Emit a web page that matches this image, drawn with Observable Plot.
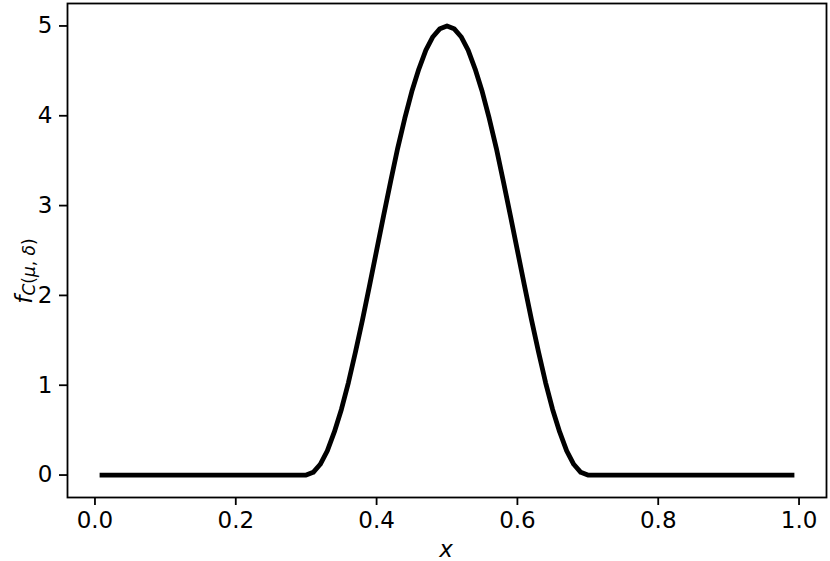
<!DOCTYPE html>
<html>
<head>
<meta charset="utf-8">
<script src="https://cdn.jsdelivr.net/npm/d3@7"></script>
<script src="https://cdn.jsdelivr.net/npm/@observablehq/plot@0.6"></script>
<style>
  html, body { margin: 0; padding: 0; background: #fff; }
  #chart { width: 830px; height: 561px; }
</style>
</head>
<body>
<div id="chart"></div>
<script>
// x positions
const xs = [0.01, 0.10, 0.20, 0.30, 0.31, 0.32, 0.33, 0.34, 0.35, 0.36, 0.37, 0.38, 0.39,
            0.40, 0.41, 0.42, 0.43, 0.44, 0.45, 0.46, 0.47, 0.48, 0.49, 0.50,
            0.51, 0.52, 0.53, 0.54, 0.55, 0.56, 0.57, 0.58, 0.59, 0.60,
            0.61, 0.62, 0.63, 0.64, 0.65, 0.66, 0.67, 0.68, 0.69, 0.70, 0.80, 0.90, 0.99];
// density values
const fs = [0, 0, 0, 0, 0.03, 0.12, 0.27, 0.48, 0.73, 1.03, 1.37, 1.73, 2.11,
            2.50, 2.89, 3.27, 3.64, 3.97, 4.27, 4.52, 4.73, 4.88, 4.97, 5.00,
            4.97, 4.88, 4.73, 4.52, 4.27, 3.97, 3.64, 3.27, 2.89, 2.50,
            2.11, 1.73, 1.37, 1.03, 0.73, 0.48, 0.27, 0.12, 0.03, 0, 0, 0, 0];
const xTicks = [0, 0.2, 0.4, 0.6, 0.8, 1.0];
const yTicks = [0, 1, 2, 3, 4, 5];

const data = xs.map((x, i) => ({x, f: fs[i]}));

const fontFamily = "'DejaVu Sans', sans-serif";

const plot = Plot.plot({
  width: 830,
  height: 561,
  marginLeft: 67,
  marginRight: 4,
  marginTop: 3,
  marginBottom: 64,
  style: {fontFamily, fontSize: "23px", color: "black", background: "white", overflow: "visible"},
  x: {domain: [-0.039, 1.039]},
  y: {domain: [-0.25, 5.25]},
  marks: [
    Plot.line(data, {x: "x", y: "f", stroke: "black", strokeWidth: 4.8,
                     strokeLinecap: "square", strokeLinejoin: "round", curve: "linear"}),
    Plot.axisX({ticks: xTicks, tickFormat: d3.format(".1f"), tickSize: 8, tickPadding: 6,
                fontSize: 23, strokeWidth: 1.8, label: null}),
    Plot.axisY({ticks: yTicks, tickFormat: d3.format("d"), tickSize: 8, tickPadding: 7,
                fontSize: 23, strokeWidth: 1.8, label: null}),
    Plot.frame({stroke: "black", strokeWidth: 1.8})
  ]
});

const svg = d3.select(plot);
// y-axis label with subscript
const yl = svg.append("text")
  .attr("transform", "translate(32,271) rotate(-90)")
  .attr("text-anchor", "middle")
  .attr("font-family", fontFamily)
  .attr("fill", "black");
yl.append("tspan").attr("font-size", 23).attr("font-style", "italic").text("f");
const sub = yl.append("tspan").attr("font-size", 17).attr("dy", 3);
sub.append("tspan").attr("font-style", "italic").text("C");
sub.append("tspan").text("(");
sub.append("tspan").attr("font-style", "italic").text("μ");
sub.append("tspan").text(", ");
sub.append("tspan").attr("font-style", "italic").text("δ");
sub.append("tspan").text(")");

// x-axis label
svg.append("text")
  .attr("x", 446).attr("y", 557)
  .attr("text-anchor", "middle")
  .attr("font-family", fontFamily)
  .attr("font-size", 23)
  .attr("font-style", "italic")
  .attr("fill", "black")
  .text("x");

document.getElementById("chart").appendChild(plot);
</script>
</body>
</html>
